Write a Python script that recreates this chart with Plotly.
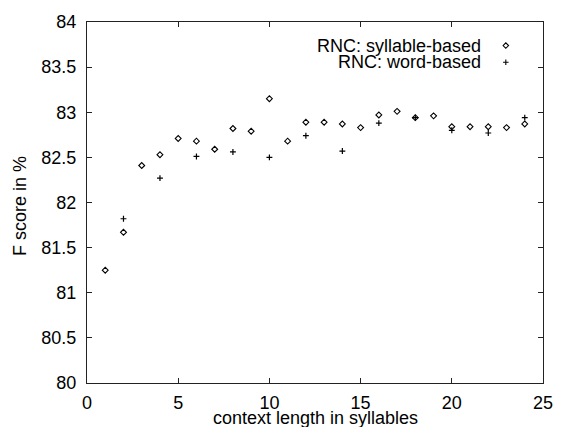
import plotly.graph_objects as go

# Data
syl_x = list(range(1, 25))
syl_y = [81.25, 81.67, 82.41, 82.53, 82.71, 82.68, 82.59, 82.82, 82.79, 83.15,
         82.68, 82.89, 82.89, 82.87, 82.83, 82.97, 83.01, 82.94, 82.96, 82.84,
         82.84, 82.84, 82.83, 82.87]
word_x = [2, 4, 6, 8, 10, 12, 14, 16, 18, 20, 22, 24]
word_y = [81.82, 82.27, 82.51, 82.56, 82.50, 82.74, 82.57, 82.88, 82.94, 82.80, 82.77, 82.94]

series_names = ["RNC: syllable-based", "RNC: word-based"]
x_ticks = [0, 5, 10, 15, 20, 25]
y_ticks = [80, 80.5, 81, 81.5, 82, 82.5, 83, 83.5, 84]
x_title = "context length in syllables"
y_title = "F score in %"

FONT = "Liberation Sans, Arial, Helvetica, sans-serif"
FS = 18

W, H = 565, 427
ML, MR, MT, MB = 87, 12, 15, 44
PW, PH = W - ML - MR, H - MT - MB

fig = go.Figure()
fig.add_trace(go.Scatter(
    x=syl_x, y=syl_y, mode="markers", name=series_names[0], showlegend=False,
    marker=dict(symbol="diamond-open", size=4.5, color="black", line=dict(width=1.1, color="black")),
))
fig.add_trace(go.Scatter(
    x=word_x, y=word_y, mode="markers", name=series_names[1], showlegend=False,
    marker=dict(symbol="cross-thin-open", size=4.2, color="black", line=dict(width=1.2, color="black")),
))

axis_common = dict(
    showgrid=False, zeroline=False, showline=True, linecolor="#222", linewidth=1.4,
    mirror="ticks", ticks="inside", ticklen=5, tickwidth=1, tickcolor="#222",
    tickfont=dict(family=FONT, size=FS, color="black"),
)

fig.update_xaxes(range=[0, 25], tickvals=x_ticks, ticktext=[str(v) for v in x_ticks],
                 ticklabelstandoff=3, **axis_common)
fig.update_yaxes(range=[80, 84], tickvals=y_ticks, ticktext=[f"{v:g}" for v in y_ticks],
                 ticklabelstandoff=6, **axis_common)

# axis titles as annotations (positioned like gnuplot)
fig.add_annotation(xref="paper", yref="paper", x=0.5, y=-(419 - (MT + PH)) / PH, text=x_title,
                   showarrow=False, xanchor="center", yanchor="middle",
                   font=dict(family=FONT, size=FS, color="black"))
fig.add_annotation(xref="paper", yref="paper", x=-(ML - 19) / PW, y=(MT + PH - 202) / PH, text=y_title,
                   showarrow=False, textangle=-90, xanchor="center", yanchor="middle",
                   font=dict(family=FONT, size=FS, color="black"))

# gnuplot-style legend: text right-aligned, key symbol to the right
legend_px_y = [39, 56]
text_right_px = 492
key_px_x = 515
shapes = []
for i, (name, py) in enumerate(zip(series_names, legend_px_y)):
    ly = (MT + PH - py) / PH
    fig.add_annotation(xref="paper", yref="paper", x=(text_right_px - ML) / PW, y=ly, text=name,
                       showarrow=False, xanchor="right", yanchor="middle",
                       font=dict(family=FONT, size=FS, color="black"))
    kx = (key_px_x - ML) / PW
    dx, dy = 2.8 / PW, 2.8 / PH
    if i == 0:
        path = f"M {kx - dx},{ly} L {kx},{ly + dy} L {kx + dx},{ly} L {kx},{ly - dy} Z"
    else:
        path = f"M {kx - dx},{ly} L {kx + dx},{ly} M {kx},{ly - dy} L {kx},{ly + dy}"
    shapes.append(dict(type="path", xref="paper", yref="paper", path=path,
                       line=dict(color="black", width=1.1)))

fig.update_layout(
    width=W, height=H,
    margin=dict(l=ML, r=MR, t=MT, b=MB),
    paper_bgcolor="white", plot_bgcolor="white",
    font=dict(family=FONT, color="black"),
    shapes=shapes,
)

# remove the default page margin so the figure starts at the window's top-left corner
fig.write_html("out.html",
               config={"displayModeBar": False},
               post_script="document.body.style.margin='0';document.body.style.overflow='hidden';")
